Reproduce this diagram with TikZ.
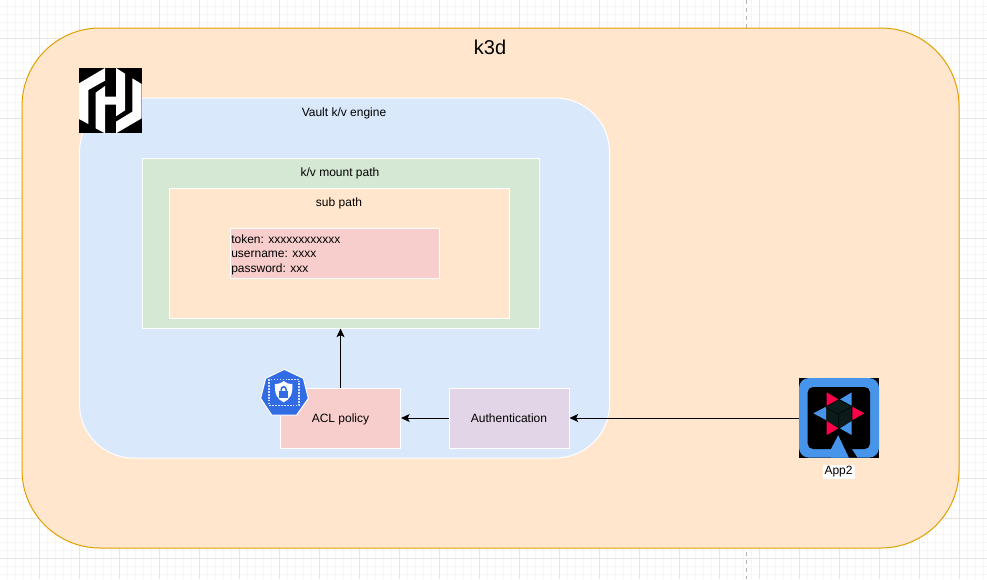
\documentclass[tikz,border=0pt]{standalone}
\usepackage{fontspec}
\setmainfont{Liberation Sans}
\usepackage{tikz}
\usetikzlibrary{arrows.meta}

\definecolor{peachfill}{HTML}{FFE6CC}
\definecolor{peachline}{HTML}{DFA000}
\definecolor{bluefill}{HTML}{DAE8FC}
\definecolor{greenfill}{HTML}{D5E8D4}
\definecolor{redfill}{HTML}{F8CECC}
\definecolor{violetfill}{HTML}{E1D5E7}
\definecolor{kubeblue}{HTML}{326CE5}
\definecolor{quarkblue}{HTML}{4695EB}
\definecolor{quarkred}{HTML}{FF004A}
\definecolor{quarkdark}{HTML}{0D1A1A}

\tikzset{
    whitebox/.style={draw=white, line width=0.75pt, inner sep=0pt, font=\fontsize{9}{11}\selectfont},
    stepbox/.style={whitebox, minimum width=90pt, minimum height=45pt, text height=8pt, text depth=1.9pt},
    caption/.style={font=\fontsize{9}{11}\selectfont, inner sep=0pt},
    link/.style={draw=black, line width=0.75pt, -{Stealth[length=6.5pt,width=6pt,inset=1.5pt]}},
}

\begin{document}
\begin{tikzpicture}[x=0.75pt, y=-0.75pt]
    \useasboundingbox (0,0) rectangle (987,579);
    \fill[white] (0,0) rectangle (987,579);
    % grid
    \foreach \i in {-1,7,...,987} \draw[black!4, line width=0.75pt] (\i,0) -- (\i,579);
    \foreach \j in {-2,6,...,579} \draw[black!4, line width=0.75pt] (0,\j) -- (987,\j);
    \foreach \i in {39,79,...,987} \draw[black!10, line width=0.75pt] (\i,0) -- (\i,579);
    \foreach \j in {38,78,...,579} \draw[black!10, line width=0.75pt] (0,\j) -- (987,\j);
    \draw[black!30, dashed, line width=0.75pt] (746,0) -- (746,579);

    % boxes
    \node[draw=peachline, fill=peachfill, line width=0.75pt, rounded corners=58.5pt, inner sep=0pt,
          minimum width=702.75pt, minimum height=390pt] (k3d) at (490.5,288) {};
    \node[whitebox, fill=bluefill, rounded corners=40.5pt,
          minimum width=397.5pt, minimum height=270pt] (vault) at (344.5,278) {};
    \node[whitebox, fill=greenfill, minimum width=297.75pt, minimum height=127.5pt] (mount) at (340.5,243) {};
    \node[whitebox, fill=peachfill, minimum width=255pt, minimum height=97.5pt] (subpath) at (339,253) {};
    \node[whitebox, fill=redfill, minimum width=156.75pt, minimum height=37.5pt] (secret) at (334.5,253) {};
    \node[stepbox, fill=redfill] (acl) at (340.5,418) {ACL policy};
    \node[stepbox, fill=violetfill] (auth) at (509,418) {Authentication};

    % texts
    \node[font=\fontsize{15}{18}\selectfont, inner sep=0pt] (k3dtitle) at (490,47) {k3d};
    \node[caption] (vaulttitle) at (344,113) {Vault k/v engine};
    \node[caption] (mounttitle) at (340,173) {k/v mount path};
    \node[caption] (subtitle) at (339,203) {sub path};
    \node[caption, anchor=west, align=left, font=\fontsize{9}{10.9}\selectfont] (secrettext) at (231,254.5)
        {token: xxxxxxxxxxxx\\username: xxxx\\password: xxx};
    \node[caption, fill=white, inner xsep=1.5pt, inner ysep=1.5pt] (apptitle) at (838.5,472) {App2};

    % connectors
    \coordinate (appin) at (799,418);
    \draw[link] (acl) -- (mount);
    \draw[link] (auth) -- (acl);
    \draw[link] (appin) -- (auth);

    % hashicorp logo
    \begin{scope}[shift={(60,50)}, x=0.25pt, y=-0.25pt]
        \fill[black] (57,54) rectangle (245,250);
        \fill[white] (57,100) -- (135,54) -- (135,92) -- (85,120) -- (85,222) -- (57,207) -- cycle;
        \fill[white] (107,128) -- (135,108) -- (135,140) -- (168,140) -- (168,54) -- (195,71)
            -- (195,181) -- (168,199) -- (168,164) -- (135,164) -- (135,250) -- (107,235) -- cycle;
        \fill[white] (217,85) -- (245,102) -- (245,205) -- (168,250) -- (168,215) -- (217,185) -- cycle;
    \end{scope}

    % vault policy badge
    \begin{scope}[shift={(240,360)}, x=0.25pt, y=-0.25pt]
        \fill[kubeblue, draw=white, line width=0.75pt] (133,28) -- (190,55) -- (205,115) -- (170,165)
            -- (95,165) -- (62,115) -- (77,55) -- cycle;
        \draw[white!80!kubeblue, line width=0.9pt, dash pattern=on 1.2pt off 1pt] (87,58) rectangle (177,136);
        \fill[white] (105,72) .. controls (118,72) and (126,68) .. (131,63)
            .. controls (136,68) and (144,72) .. (157,72)
            .. controls (159,102) and (150,118) .. (131,127)
            .. controls (112,118) and (103,102) .. (105,72) -- cycle;
        \fill[kubeblue] (118,92) rectangle (144,113);
        \draw[kubeblue, line width=1.2pt] (123,92) .. controls (123,76) and (139,76) .. (139,92);
    \end{scope}

    % quarkus logo
    \begin{scope}[shift={(770,360)}, x=0.25pt, y=-0.25pt]
        \fill[black] (87,54) rectangle (327,293);
        \fill[quarkblue, rounded corners=7.5pt] (87,54) rectangle (327,293);
        \fill[black, rounded corners=4pt] (113,81) rectangle (300,267);
        \fill[quarkblue] (205,225) -- (237,293) -- (183,293) -- (183,267) -- cycle;
        \fill[black] (205,225) -- (225,235) -- (262,293) -- (237,293) -- cycle;
        \fill[quarkdark] (205,120) -- (245,140) -- (245,182) -- (205,205) -- (167,182) -- (167,142) -- cycle;
        \fill[quarkred] (170,97) -- (205,118) -- (170,137) -- cycle;
        \fill[quarkblue] (245,97) -- (245,137) -- (210,118) -- cycle;
        \fill[quarkblue] (130,160) -- (168,140) -- (168,180) -- cycle;
        \fill[quarkred] (283,160) -- (247,140) -- (247,180) -- cycle;
        \fill[quarkred] (170,183) -- (205,205) -- (170,225) -- cycle;
        \fill[quarkblue] (245,183) -- (210,205) -- (245,225) -- cycle;
        \draw[black, line width=0.3pt] (205,162) -- (167,142) (205,162) -- (245,140) (205,162) -- (205,205);
    \end{scope}
\end{tikzpicture}
\end{document}
